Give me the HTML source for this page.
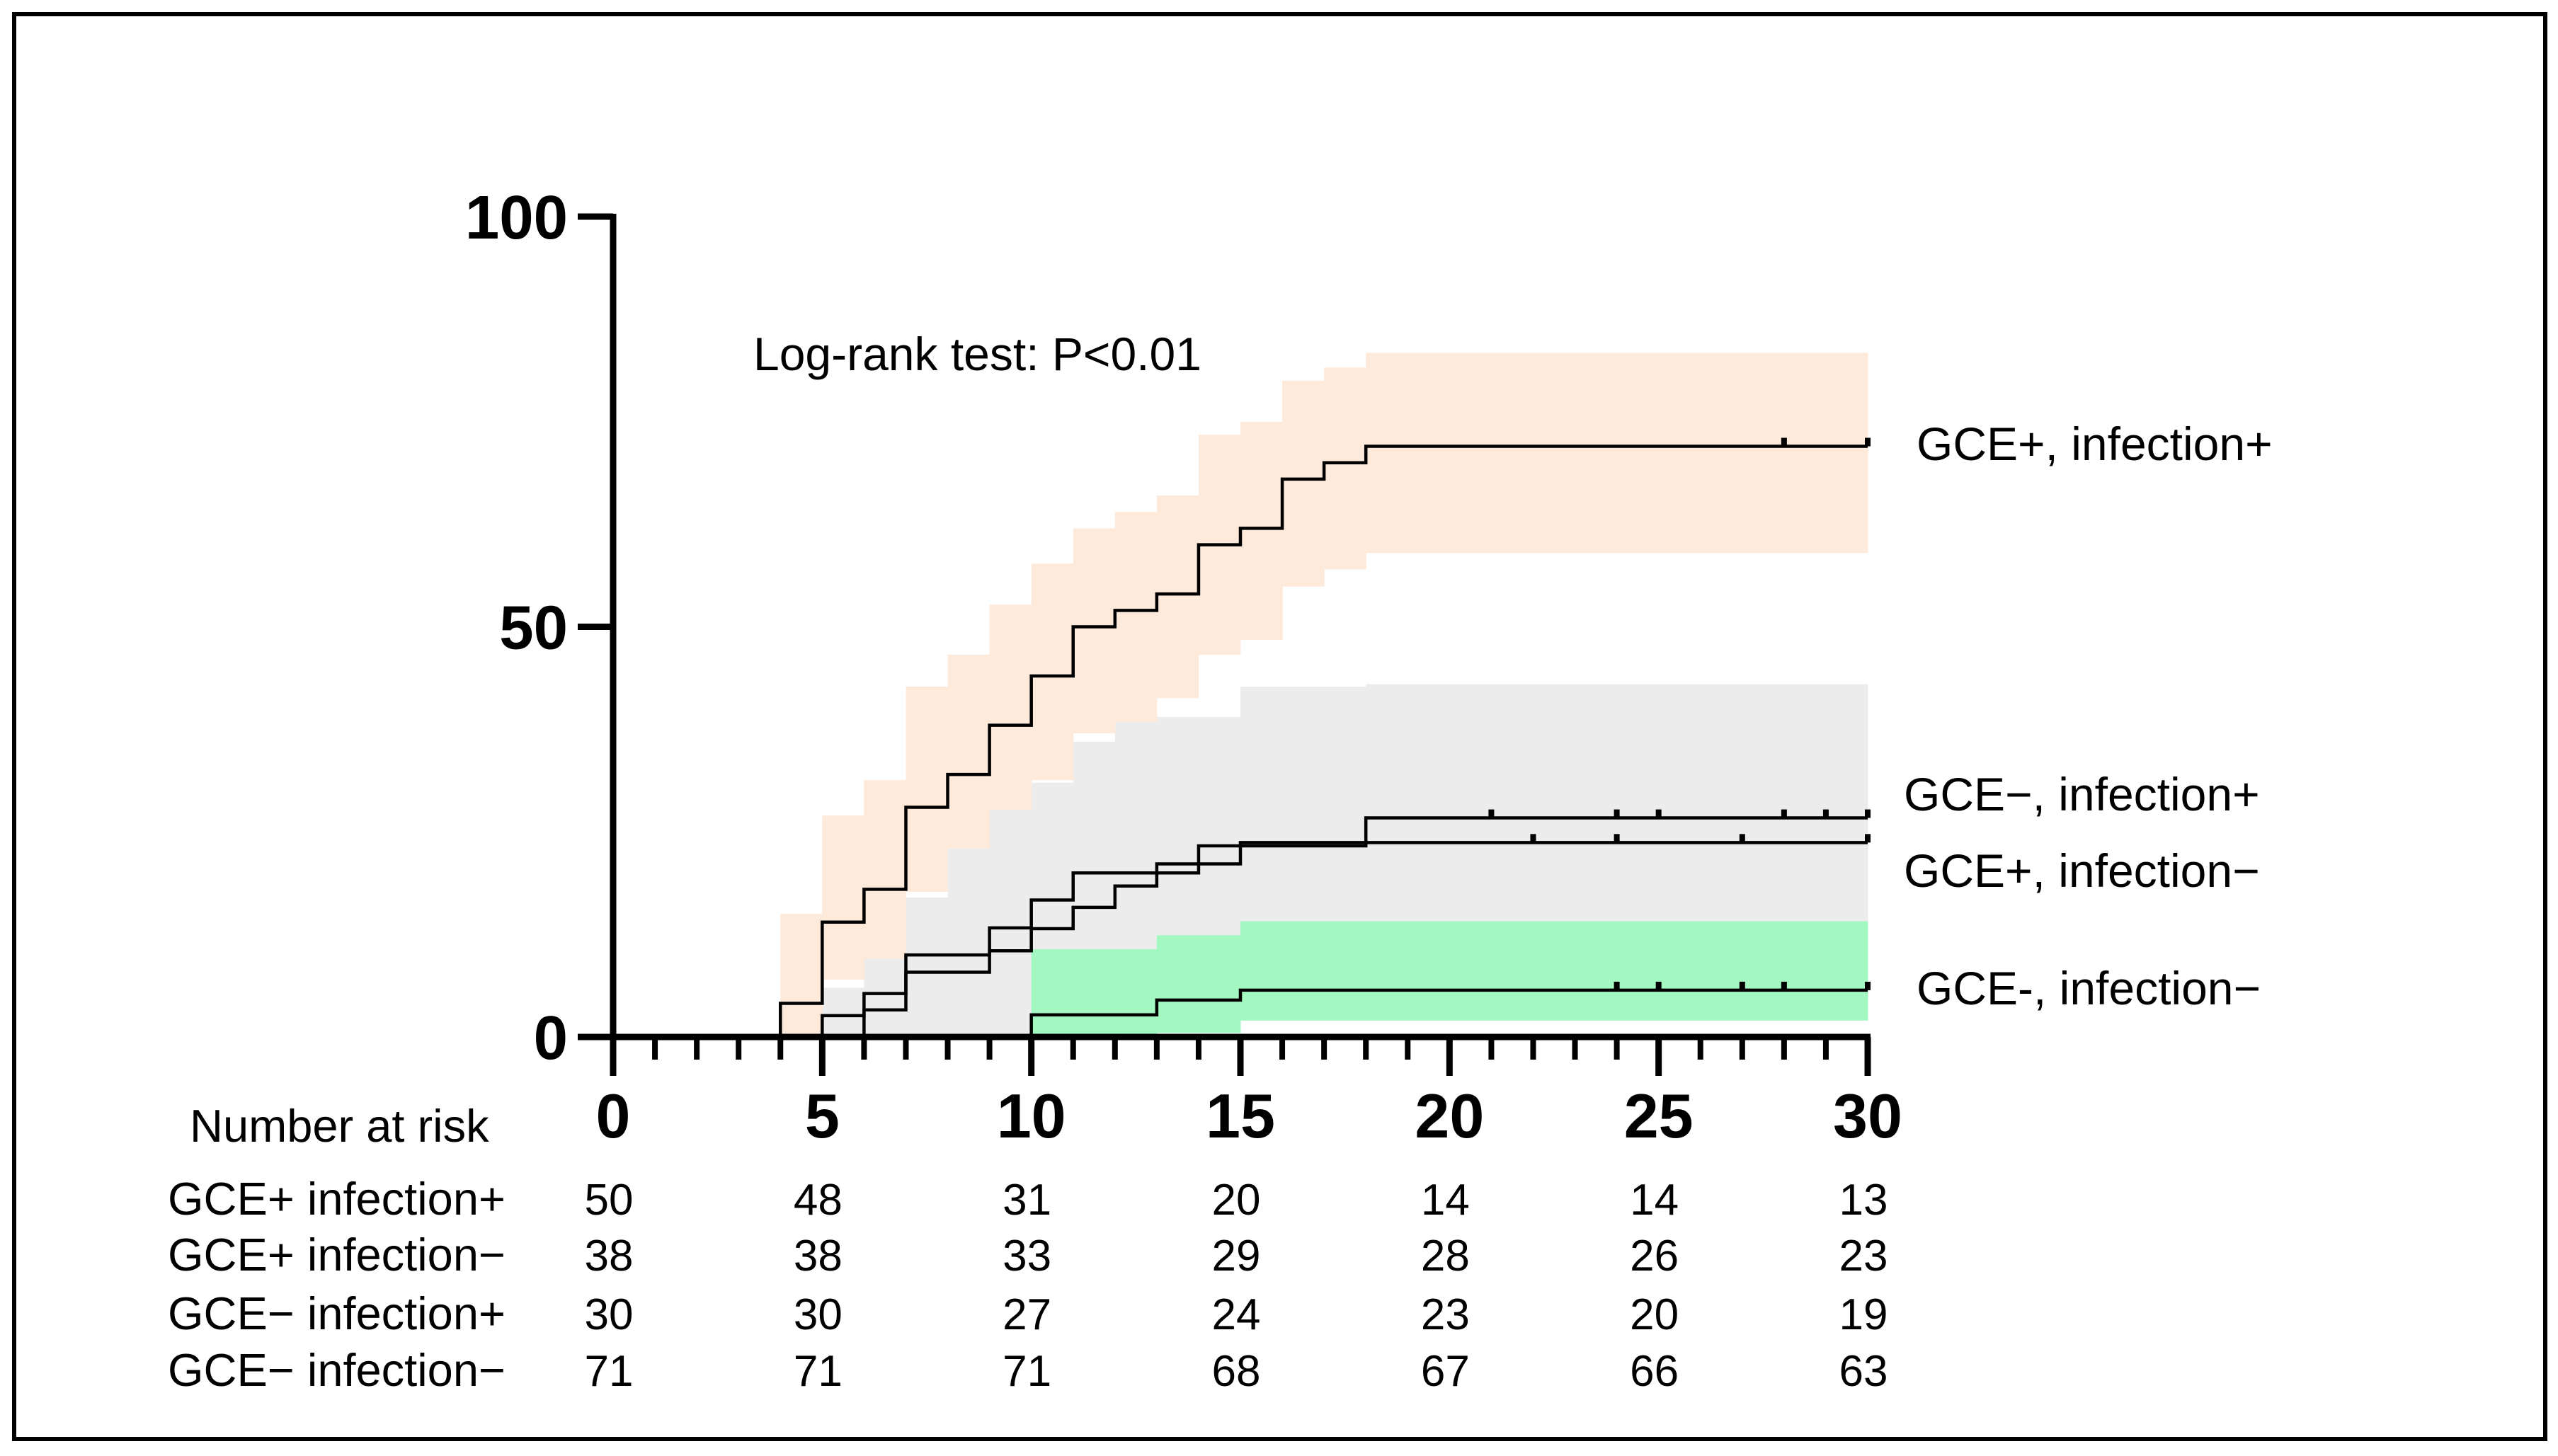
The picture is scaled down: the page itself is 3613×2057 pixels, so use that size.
<!DOCTYPE html>
<html><head><meta charset="utf-8"><style>
html,body{margin:0;padding:0;background:#fff}
svg{display:block}
text{font-family:"Liberation Sans",Arial,sans-serif}
</style></head><body>
<svg id="chart" width="3613" height="2057" viewBox="0 0 3613 2057" xmlns="http://www.w3.org/2000/svg">
<rect x="20" y="20" width="3575" height="2013" fill="#fff" stroke="#000" stroke-width="6"/>
<g id="bands"></g><g id="lines"></g><g id="axes"></g>
<text x="1064" y="523" font-size="66">Log-rank test: P&lt;0.01</text>
<text x="2707" y="650" font-size="66">GCE+, infection+</text>
<text x="2689" y="1145" font-size="66">GCE−, infection+</text>
<text x="2689" y="1253" font-size="66">GCE+, infection−</text>
<text x="2707" y="1419" font-size="66">GCE-, infection−</text>
<g id="risk"></g>
</svg>
<script>
// ---- data ----
const xTicks = [0,5,10,15,20,25,30];
const yTicks = [0,50,100];
const s1 = [[0,0],[4,4.1],[5,14],[6,18],[7,28],[8,32],[9,38],[10,44],[11,50],[12,52],[13,54],[14,60],[15,62],[16,68],[17,70],[18,72]];
const s2 = [[0,0],[6,3.3],[7,10],[9,13.3],[10,16.7],[11,20],[14,23.3],[18,26.7]];
const s3 = [[0,0],[5,2.6],[6,5.3],[7,7.9],[9,10.5],[10,13.2],[11,15.8],[12,18.4],[13,21.1],[15,23.7]];
const s4 = [[0,0],[10,2.7],[13,4.5],[15,5.7]];
const band1 = [[4,0,15],[5,7,27],[6,9.5,31.3],[7,17.7,42.7],[8,23,46.6],[9,27.7,52.7],[10,31.3,57.7],[11,37,62],[12,38.4,64],[13,41.3,66],[14,46.6,73.4],[15,48.4,75],[16,54.9,80],[17,57,81.6],[18,59,83.4]];
const bandGray = [[5,0,6],[6,0,10],[7,0,17],[8,0,27.7],[10,5,31],[11,5,36],[12,8,39],[15,12,42.7],[18,12,43]];
const band4 = [[10,0,10.7],[13,0.5,12.4],[15,2,14.1]];
const cens1 = [28,30];
const cens2 = [21,24,25,28,29,30];
const cens3 = [22,24,27,30];
const cens4 = [24,25,27,28,30];
const riskLabels = ["GCE+ infection+","GCE+ infection−","GCE− infection+","GCE− infection−"];
const risk1 = [50,48,31,20,14,14,13];
const risk2 = [38,38,33,29,28,26,23];
const risk3 = [30,30,27,24,23,20,19];
const risk4 = [71,71,71,68,67,66,63];
// ---- scales ----
const X0=866,X1=2638,Y0=1465,Y1=306,XMAX=30;
const sx=t=>X0+(X1-X0)*t/30;
const sy=v=>Y0-(Y0-Y1)*v/100;
const NS="http://www.w3.org/2000/svg";
function mk(tag,attrs,parent){const e=document.createElementNS(NS,tag);for(const k in attrs)e.setAttribute(k,attrs[k]);parent.appendChild(e);return e;}
const gB=document.getElementById('bands'),gL=document.getElementById('lines'),gA=document.getElementById('axes'),gR=document.getElementById('risk');
function band(b,color,name){
  for(let i=0;i<b.length;i++){
    const x0=sx(b[i][0]),x1=sx(i+1<b.length?b[i+1][0]:XMAX);
    const r=mk('rect',{x:x0,y:sy(b[i][2]),width:x1-x0+0.5,height:sy(b[i][1])-sy(b[i][2]),fill:color},gB);
    
    
  }
}
band(bandGray,'#ececec','ci-band-gray');
band(band1,'#fdeadb','ci-band-gce-pos-inf-pos');
band(band4,'#a3f7c1','ci-band-gce-neg-inf-neg');
function step(s,name,cens){
  let d='M'+sx(s[0][0])+','+sy(s[0][1]);
  for(let i=1;i<s.length;i++){d+=' H'+sx(s[i][0])+' V'+sy(s[i][1]);}
  d+=' H'+sx(XMAX);
  const p=mk('path',{d:d,fill:'none',stroke:'#000','stroke-width':4.5},gL);
  
  
  const last=s[s.length-1][1];
  cens.forEach(t=>{
    const c=mk('rect',{x:sx(t)-4,y:sy(last)-12,width:8,height:12,fill:'#000'},gL);
    
    
  });
}
step(s1,'line-gce-pos-inf-pos',cens1);
step(s2,'line-gce-neg-inf-pos',cens2);
step(s3,'line-gce-pos-inf-neg',cens3);
step(s4,'line-gce-neg-inf-neg',cens4);
let ax=mk('line',{x1:X0,y1:Y0,x2:X1+4,y2:Y0,stroke:'#000','stroke-width':9},gA);


let ay=mk('line',{x1:X0,y1:Y0+4,x2:X0,y2:Y1-4,stroke:'#000','stroke-width':9},gA);


for(let t=0;t<=XMAX;t++){
  const major=t%5===0;
  const tk=mk('line',{x1:sx(t),y1:Y0,x2:sx(t),y2:Y0+(major?55:32),stroke:'#000','stroke-width':major?9:8},gA);
  
  
}
xTicks.forEach(t=>{
  const l=mk('text',{x:sx(t),y:1607,'font-size':88,'font-weight':'bold','text-anchor':'middle'},gA);
  l.textContent=t;
  
  
});
yTicks.forEach(v=>{
  const tk=mk('line',{x1:X0-50,y1:sy(v),x2:X0,y2:sy(v),stroke:'#000','stroke-width':9},gA);
  
  
  const l=mk('text',{x:802,y:sy(v)+31,'font-size':87,'font-weight':'bold','text-anchor':'end'},gA);
  l.textContent=v;
  
  
});
const rt=mk('text',{x:268,y:1613,'font-size':65},gR);
rt.textContent='Number at risk';


const riskRows=[risk1,risk2,risk3,risk4];
const rowY=[1716,1795,1878,1958];
riskRows.forEach((row,i)=>{
  const lb=mk('text',{x:237,y:rowY[i],'font-size':65},gR);
  lb.textContent=riskLabels[i];
  
  
  row.forEach((n,j)=>{
    const c=mk('text',{x:sx(xTicks[j])-6,y:rowY[i],'font-size':62,'text-anchor':'middle'},gR);
    c.textContent=n;
    
    
  });
});
</script>
</body></html>
